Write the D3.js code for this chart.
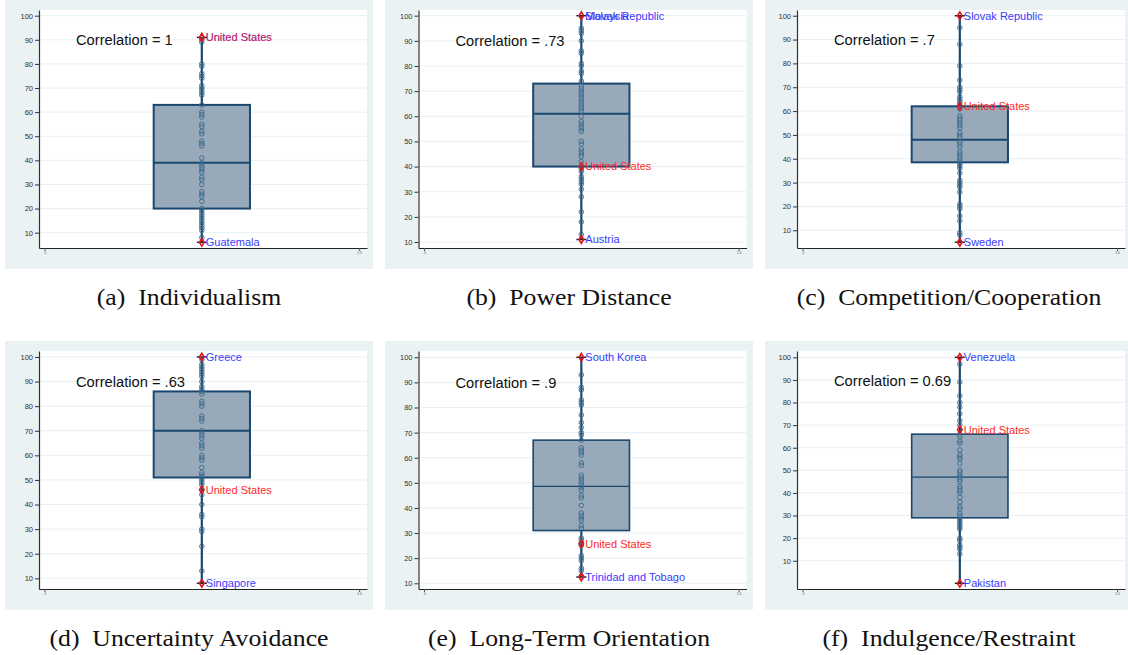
<!DOCTYPE html>
<html><head><meta charset="utf-8">
<script src="https://cdn.jsdelivr.net/npm/d3@7"></script>
<style>body{margin:0;background:#fff}svg{display:block}</style>
</head><body>
<svg id="c" width="1128" height="655"></svg>
<script>
const captions = ["(a)  Individualism", "(b)  Power Distance", "(c)  Competition/Cooperation",
                  "(d)  Uncertainty Avoidance", "(e)  Long-Term Orientation", "(f)  Indulgence/Restraint"];
const correlations = ["Correlation = 1", "Correlation = .73", "Correlation = .7",
                      "Correlation = .63", "Correlation = .9", "Correlation = 0.69"];
const q1 = [20, 40, 38.5, 51, 31, 29];
const medians = [39, 61, 48, 70, 48.6, 47];
const q3 = [63, 73, 62, 86, 67, 66];
const whiskerLow = [6, 11, 5, 8, 12.5, 0];
const whiskerHigh = [91, 100, 100, 100, 100, 100];
const usValues = [91, 40, 62, 46, 25.7, 68];
const maxLabels = [["United States"], ["Malaysia", "Slovak Republic"], ["Slovak Republic"], ["Greece"], ["South Korea"], ["Venezuela"]];
const minLabels = ["Guatemala", "Austria", "Sweden", "Singapore", "Trinidad and Tobago", "Pakistan"];
const yTicks = [10, 20, 30, 40, 50, 60, 70, 80, 90, 100];
const xTicks = [0.5, 1.5];
const xTickLabels = [".5", "1.5"];
const xRange = [0.4825, 1.525];
const yRanges = [[3.65, 102.36], [7.62, 102.26], [2.57, 102.4], [5.65, 102.44], [7.73, 102.5], [-2.5, 102.8]];

const pointsA = [91, 89, 90, 80, 79, 76, 75, 74, 71, 70, 69, 68, 67, 63, 60, 59, 58, 55, 54, 52, 51, 48, 47, 46, 41, 39, 38, 37, 36, 35, 33, 32, 30, 27, 26, 25, 23, 20, 19, 18, 17, 16, 15, 14, 13, 12, 11, 8, 6];
const pointsB = [100, 95, 94, 93, 90, 86, 85, 81, 80, 78, 77, 74, 72, 71, 70, 69, 68, 67, 66, 65, 64, 63, 62, 60, 58, 57, 56, 55, 54, 50, 49, 47, 46, 45, 44, 42, 40, 39, 38, 36, 35, 34, 33, 31, 28, 22, 18, 13, 11];
const pointsC = [100, 95, 88, 79, 73, 70, 69, 68, 66, 65, 64, 63, 62, 61, 58, 57, 56, 55, 54, 53, 51, 50, 49, 47, 46, 45, 43, 42, 41, 40, 39, 38, 37, 36, 34, 31, 30, 29, 28, 26, 21, 20, 19, 16, 14, 9, 8, 5];
const pointsD = [100, 99, 97, 96, 95, 94, 93, 92, 90, 88, 87, 86, 85, 82, 81, 80, 76, 75, 74, 70, 69, 68, 67, 65, 64, 63, 60, 59, 58, 55, 53, 52, 51, 50, 49, 48, 46, 44, 40, 36, 35, 30, 29, 23, 13, 8];
const pointsE = [100, 93, 88, 87, 83, 82, 81, 77, 74, 72, 70, 69, 67, 64, 63, 62, 61, 58, 57, 53, 52, 51, 50, 49, 48, 47, 45, 44, 41, 38, 37, 36, 35, 33, 32, 28, 27, 26, 25.7, 25, 21, 20, 19, 16, 15, 13, 12.5];
const pointsF = [100, 97, 89, 83, 80, 78, 75, 72, 70, 68, 66, 65, 63, 62, 59, 57, 56, 55, 53, 50, 49, 48, 47, 46, 45, 43, 42, 41, 40, 38, 36, 34, 33, 31, 30, 29, 28, 27, 26, 25, 24, 20, 19, 17, 16, 15, 13, 0];
const allPoints = [pointsA, pointsB, pointsC, pointsD, pointsE, pointsF];

const svg = d3.select('#c');
const colBg = [5, 385, 765], rowBg = [0, 341];
const colPlot = [39, 418.5, 797];
const navy = '#1a476f';
const boxHalf = 0.153;
const sans = '"Liberation Sans", Arial, sans-serif';

for (let i = 0; i < 6; i++) {
  const col = i % 3, row = Math.floor(i / 3);
  const bx = colBg[col], by = rowBg[row];
  const g = svg.append('g');
  g.append('rect').attr('x', bx).attr('y', by).attr('width', 368).attr('height', 269).attr('fill', '#eaf2f3');
  const pl = colPlot[col], pr = pl + 328, pt = by + 10, pb = by + 248;
  const x = d3.scaleLinear().domain(xRange).range([pl, pr]);
  const y = d3.scaleLinear().domain(yRanges[i]).range([pb, pt]);
  g.append('rect').attr('x', pl).attr('y', pt).attr('width', pr - pl).attr('height', pb - pt).attr('fill', '#fff');
  g.selectAll('line.grid').data(yTicks).join('line').attr('class', 'grid')
    .attr('x1', pl).attr('x2', pr).attr('y1', d => y(d)).attr('y2', d => y(d))
    .attr('stroke', '#e8f0f2').attr('stroke-width', 1);
  const ya = g.append('g').attr('transform', `translate(${pl},0)`)
    .call(d3.axisLeft(y).tickValues(yTicks).tickSize(4).tickSizeOuter(0).tickPadding(2));
  ya.select('.domain').attr('stroke', '#333').attr('stroke-width', 1.2);
  ya.selectAll('.tick line').attr('stroke', '#333');
  ya.selectAll('.tick text').attr('font-family', sans).attr('font-size', 7.5).attr('fill', '#333');
  const xa = g.append('g').attr('transform', `translate(0,${pb})`)
    .call(d3.axisBottom(x).tickValues(xTicks).tickFormat((d, k) => xTickLabels[k]).tickSize(3).tickSizeOuter(0).tickPadding(1));
  xa.select('.domain').attr('stroke', '#222').attr('stroke-width', 1.2);
  xa.selectAll('.tick line').attr('stroke', '#555');
  xa.selectAll('.tick text').attr('font-family', sans).attr('font-size', 3.5).attr('fill', '#555');

  const cx = x(1);
  const thin = i >= 4;
  g.append('line').attr('x1', cx).attr('x2', cx).attr('y1', y(q3[i])).attr('y2', y(whiskerHigh[i]))
    .attr('stroke', navy).attr('stroke-width', 2.2);
  g.append('line').attr('x1', cx).attr('x2', cx).attr('y1', y(q1[i])).attr('y2', y(whiskerLow[i]))
    .attr('stroke', navy).attr('stroke-width', 2.2);
  [whiskerLow[i], whiskerHigh[i]].forEach(v => {
    g.append('line').attr('x1', cx - 5).attr('x2', cx + 5).attr('y1', y(v)).attr('y2', y(v))
      .attr('stroke', '#222').attr('stroke-width', 1.5);
  });
  g.append('rect').attr('x', x(1 - boxHalf)).attr('y', y(q3[i]))
    .attr('width', x(1 + boxHalf) - x(1 - boxHalf)).attr('height', y(q1[i]) - y(q3[i]))
    .attr('fill', '#98a9b9').attr('stroke', navy).attr('stroke-width', thin ? 1.6 : 2);
  g.append('line').attr('x1', x(1 - boxHalf)).attr('x2', x(1 + boxHalf))
    .attr('y1', y(medians[i])).attr('y2', y(medians[i]))
    .attr('stroke', navy).attr('stroke-width', thin ? 1.2 : 2);
  g.selectAll('circle.pt').data(allPoints[i]).join('circle').attr('class', 'pt')
    .attr('cx', cx).attr('cy', d => y(d)).attr('r', 2.3)
    .attr('fill', 'none').attr('stroke', '#3a6a8e').attr('stroke-width', 1).attr('opacity', 0.9);
  const marks = [whiskerLow[i], whiskerHigh[i], usValues[i]];
  g.selectAll('path.mk').data(marks).join('path').attr('class', 'mk')
    .attr('d', d3.symbol().type(d3.symbolDiamond).size(18))
    .attr('transform', d => `translate(${cx},${y(d)})`)
    .attr('fill', 'none').attr('stroke', '#e8141c').attr('stroke-width', 1.5);
  const lx = cx + 4;
  const lab = (txt, v, color, op) => g.append('text').attr('x', lx).attr('y', y(v)).attr('dy', '0.35em')
    .attr('font-family', sans).attr('font-size', 11).attr('fill', color).attr('fill-opacity', op).text(txt);
  maxLabels[i].forEach(t => lab(t, whiskerHigh[i], '#3a3aff', 1));
  lab(minLabels[i], whiskerLow[i], '#3a3aff', 1);
  lab('United States', usValues[i], '#ff2a2a', i === 0 ? 0.8 : 1);
  g.append('text').attr('x', x(0.6)).attr('y', y(90)).attr('dy', '0.38em')
    .attr('font-family', sans).attr('font-size', 14.7).attr('fill', '#111').text(correlations[i]);
  const capX = bx + 184, capY = by + 305;
  g.append('text').attr('transform', `translate(${capX},${capY}) scale(1.12,1)`)
    .attr('text-anchor', 'middle').attr('font-family', '"Liberation Serif", "Times New Roman", serif')
    .attr('font-size', 23).attr('fill', '#111').style('white-space', 'pre').text(captions[i]);
}
</script>
</body></html>
